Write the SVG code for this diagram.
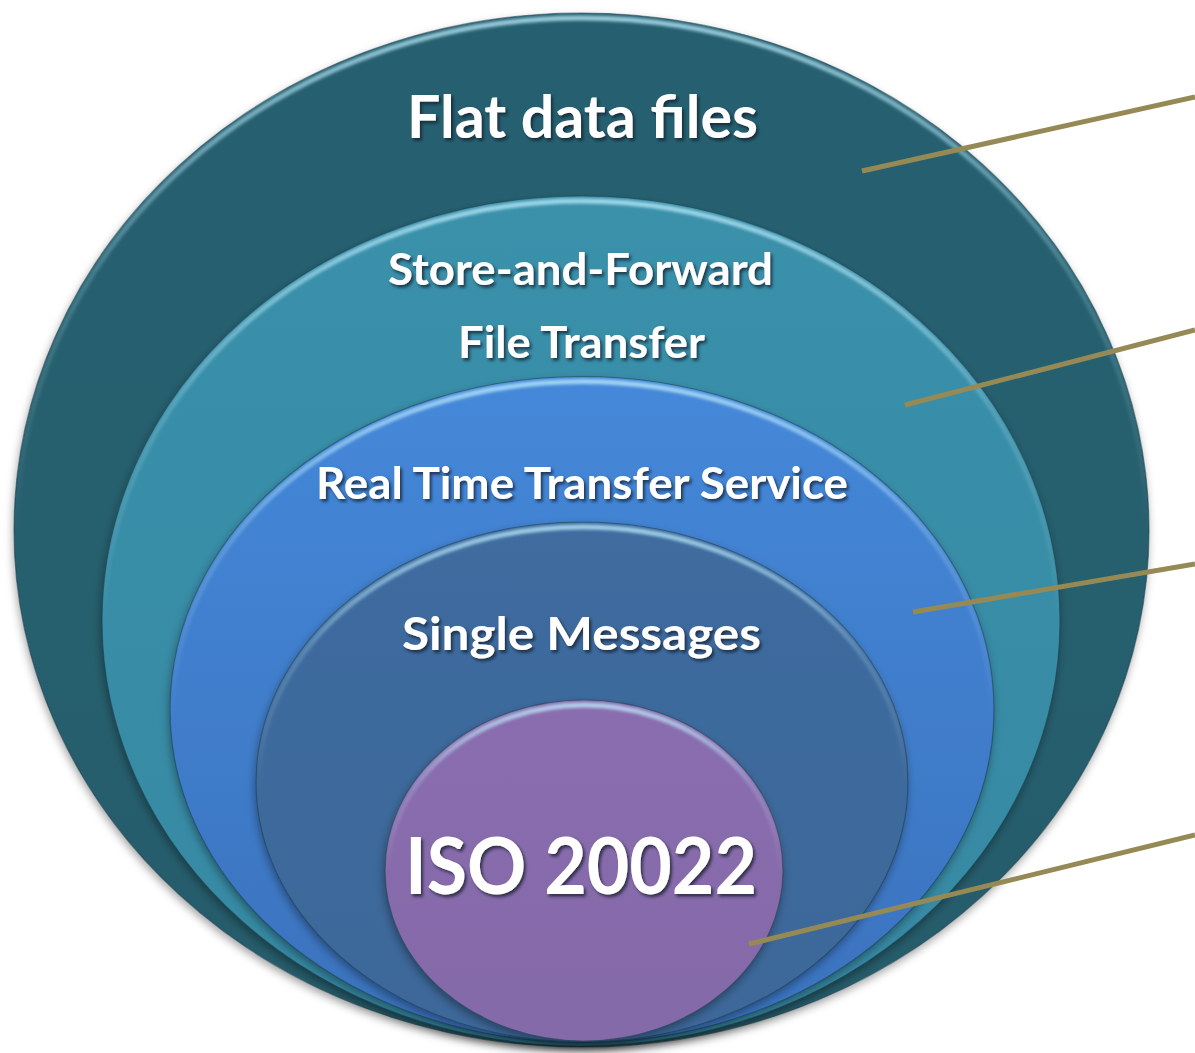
<svg xmlns="http://www.w3.org/2000/svg" width="1195" height="1053" viewBox="0 0 1195 1053">
  <defs>
    <filter id="shadow" x="-10%" y="-10%" width="120%" height="125%">
      <feDropShadow dx="-1" dy="4" stdDeviation="4" flood-color="#000" flood-opacity="0.35"/>
    </filter>
    <filter id="tshadow" x="-10%" y="-30%" width="120%" height="160%">
      <feDropShadow dx="2" dy="2.5" stdDeviation="1.5" flood-color="#0a1a25" flood-opacity="0.75"/>
    </filter>
    <filter id="soft" x="-5%" y="-5%" width="110%" height="110%">
      <feGaussianBlur stdDeviation="1.4"/>
    </filter>
    <linearGradient id="hl" x1="0" y1="0" x2="0" y2="1">
      <stop offset="0" stop-color="#bfefff" stop-opacity="0.75"/>
      <stop offset="0.25" stop-color="#bfefff" stop-opacity="0.2"/>
      <stop offset="0.5" stop-color="#ffffff" stop-opacity="0"/>
    </linearGradient>
    <linearGradient id="g1" x1="0" y1="0" x2="0" y2="1">
      <stop offset="0" stop-color="#276170"/>
      <stop offset="1" stop-color="#255c6b"/>
    </linearGradient>
    <linearGradient id="g2" x1="0" y1="0" x2="0" y2="1">
      <stop offset="0" stop-color="#3a90aa"/>
      <stop offset="1" stop-color="#3689a3"/>
    </linearGradient>
    <linearGradient id="g3" x1="0" y1="0" x2="0" y2="1">
      <stop offset="0" stop-color="#4588d9"/>
      <stop offset="1" stop-color="#3a72bd"/>
    </linearGradient>
    <linearGradient id="g4" x1="0" y1="0" x2="0" y2="1">
      <stop offset="0" stop-color="#3f6c9f"/>
      <stop offset="1" stop-color="#3c6799"/>
    </linearGradient>
    <linearGradient id="g5" x1="0" y1="0" x2="0" y2="1">
      <stop offset="0" stop-color="#8a6daf"/>
      <stop offset="1" stop-color="#846aa8"/>
    </linearGradient>
  </defs>
  <style>
    .edge { stroke: #1b3a48; stroke-opacity: 0.55; stroke-width: 1.2; }
    .rim { fill: none; stroke: url(#hl); stroke-width: 5; filter: url(#soft); }
    .lbl { fill: #ffffff; font-family: "Lato", "Open Sans", "Liberation Sans", sans-serif; font-weight: 700; filter: url(#tshadow); }
    .conn { stroke: #958a55; stroke-width: 5; fill: none; }
  </style>

  <g id="node-flat-data-files">
    <ellipse cx="581.5" cy="530" rx="567.5" ry="517" fill="url(#g1)" class="edge" filter="url(#shadow)"/>
    <ellipse cx="581.5" cy="532" rx="565" ry="514" class="rim"/>
    <text class="lbl" x="407" y="138" font-size="60" textLength="351" lengthAdjust="spacingAndGlyphs">Flat data files</text>
  </g>

  <g id="node-store-and-forward">
    <ellipse cx="581" cy="621" rx="479" ry="425" fill="url(#g2)" class="edge" filter="url(#shadow)"/>
    <ellipse cx="581" cy="623" rx="476.5" ry="422" class="rim"/>
    <text class="lbl" x="388" y="285" font-size="43" textLength="385" lengthAdjust="spacingAndGlyphs">Store-and-Forward</text>
    <text class="lbl" x="458" y="358" font-size="43" textLength="247" lengthAdjust="spacingAndGlyphs">File Transfer</text>
  </g>

  <g id="node-real-time">
    <ellipse cx="582" cy="709.5" rx="412" ry="333" fill="url(#g3)" class="edge" filter="url(#shadow)"/>
    <ellipse cx="582" cy="711.5" rx="409.5" ry="330" class="rim"/>
    <text class="lbl" x="316" y="499" font-size="44" textLength="532" lengthAdjust="spacingAndGlyphs">Real Time Transfer Service</text>
  </g>

  <g id="node-single-messages">
    <ellipse cx="582" cy="782" rx="326" ry="260" fill="url(#g4)" class="edge" filter="url(#shadow)"/>
    <ellipse cx="582" cy="784" rx="323.5" ry="257" class="rim"/>
    <text class="lbl" x="402" y="650" font-size="45" textLength="359" lengthAdjust="spacingAndGlyphs">Single Messages</text>
  </g>

  <g id="node-iso-20022">
    <ellipse cx="584" cy="870.5" rx="199" ry="170.5" fill="url(#g5)" class="edge" filter="url(#shadow)"/>
    <ellipse cx="584" cy="872.5" rx="196.5" ry="167.5" class="rim"/>
    <text class="lbl" x="405" y="894" font-size="78" textLength="352" lengthAdjust="spacingAndGlyphs">ISO 20022</text>
  </g>

  <g id="connectors">
    <line class="conn" x1="862" y1="171" x2="1195" y2="97"/>
    <line class="conn" x1="905" y1="405" x2="1195" y2="330"/>
    <line class="conn" x1="913" y1="612" x2="1195" y2="564"/>
    <line class="conn" x1="749" y1="944" x2="1195" y2="835"/>
  </g>
</svg>
